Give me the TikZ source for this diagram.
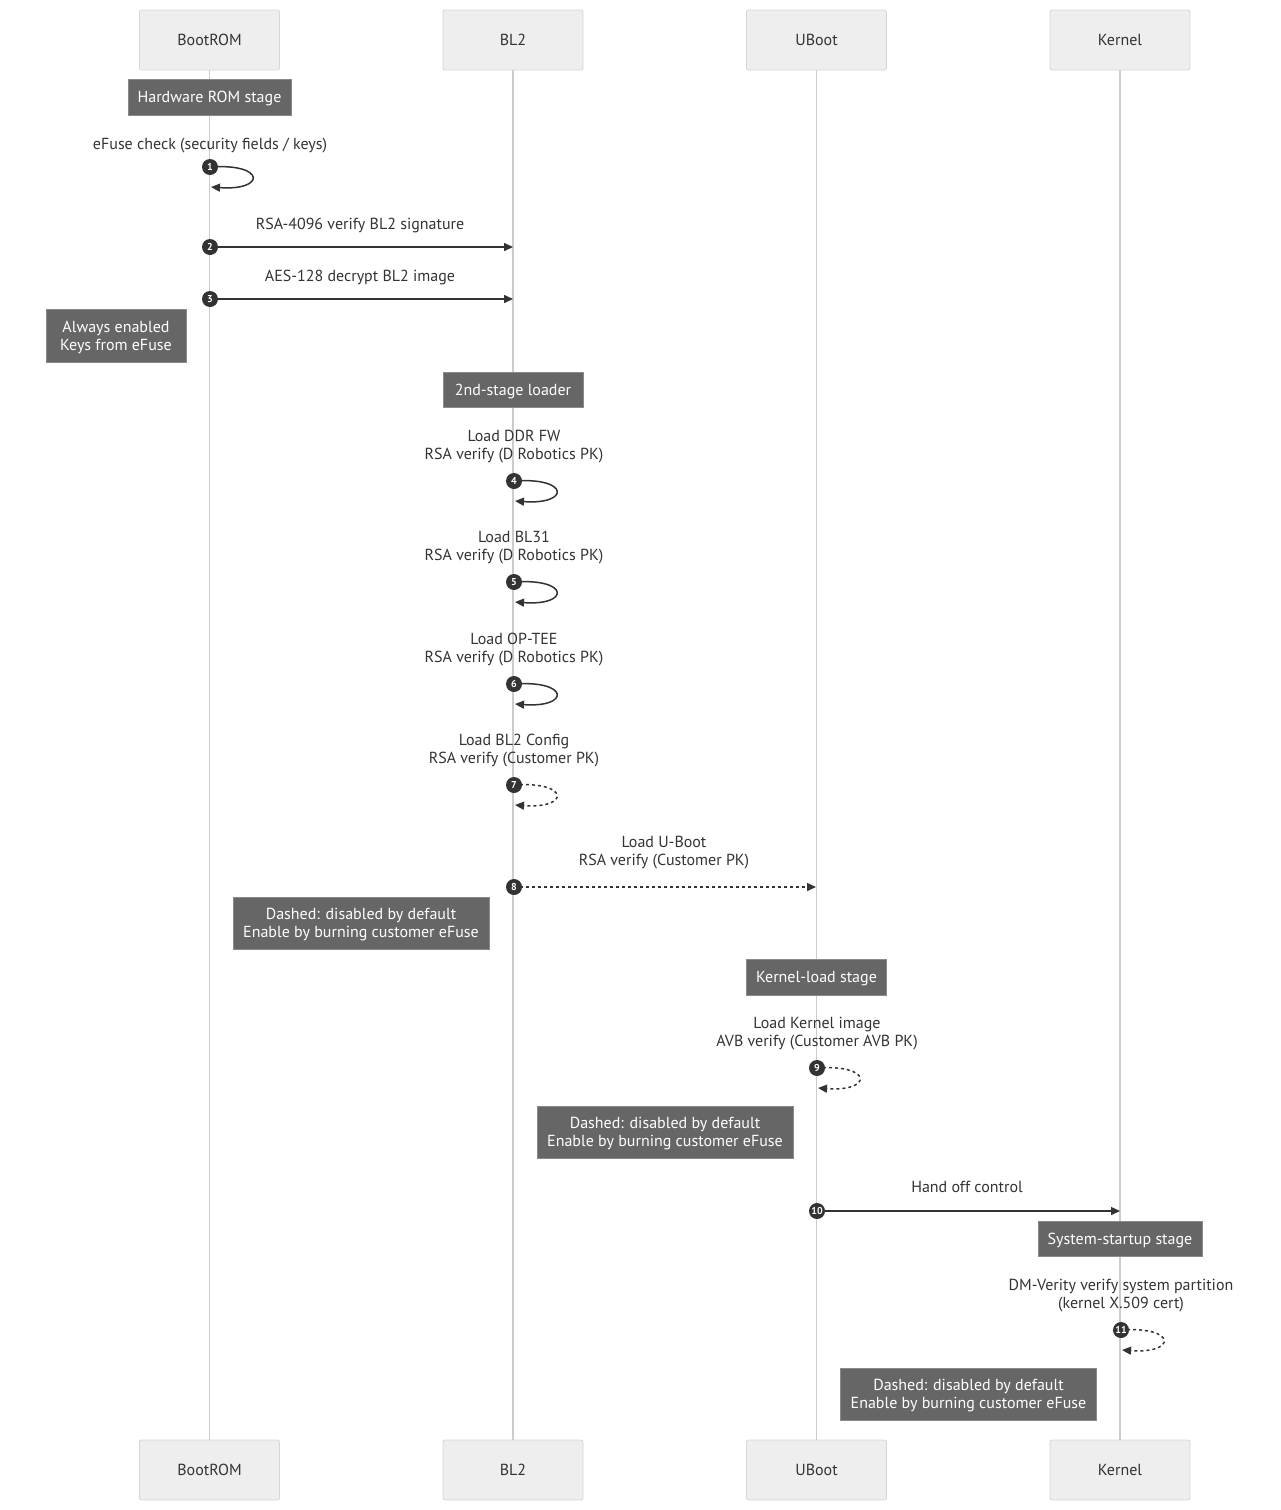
\documentclass[tikz,border=0pt]{standalone}
\usepackage{fontspec}
\setmainfont{PT Sans}
\usetikzlibrary{arrows.meta,calc}
\definecolor{notefill}{HTML}{666666}
\definecolor{noteline}{HTML}{8A8A8A}
\definecolor{actfill}{HTML}{EEEEEE}
\definecolor{actline}{HTML}{D6D6D6}
\definecolor{lifeline}{HTML}{CCCCCC}
\definecolor{ink}{HTML}{333333}
\tikzset{
  actor/.style={draw=actline, fill=actfill, rounded corners=2pt, minimum width=140, minimum height=60, inner sep=0, text=ink, line width=0.8, text depth=1pt},
  note/.style={draw=noteline, fill=notefill, text=white, align=center, inner sep=0, line width=0.8, text depth=0pt},
  msglabel/.style={text=ink, align=center, inner sep=0, text depth=0pt, yshift=-0.5pt},
  msg/.style={draw=ink, line width=1.5, -{Triangle[length=9,width=8]}},
  dmsg/.style={msg, dash pattern=on 3pt off 3pt},
  numc/.style={circle, fill=ink, text=white, inner sep=0, minimum size=16, font=\fontsize{10}{10}\selectfont\bfseries},
  life/.style={draw=lifeline, line width=1.6},
}
\begin{document}
\begin{tikzpicture}[x=1pt,y=-1pt, font=\fontsize{16}{18}\selectfont]
\useasboundingbox (0,0) rectangle (1280,1510);
% actors
\node[actor] (a1) at (209.5,40) {BootROM};
\node[actor] (a2) at (513,40) {BL2};
\node[actor] (a3) at (816.5,40) {UBoot};
\node[actor] (a4) at (1120,40) {Kernel};
\node[actor] (b1) at (209.5,1470) {BootROM};
\node[actor] (b2) at (513,1470) {BL2};
\node[actor] (b3) at (816.5,1470) {UBoot};
\node[actor] (b4) at (1120,1470) {Kernel};
\draw[life] (a1.south) -- (b1.north);
\draw[life] (a2.south) -- (b2.north);
\draw[life] (a3.south) -- (b3.north);
\draw[life] (a4.south) -- (b4.north);

% notes
\node[note, minimum width=163, minimum height=36] (n1) at (209.5,97) {Hardware ROM stage};
\node[note, minimum width=140, minimum height=53] (n2) at (116,335.5) {Always enabled\\Keys from eFuse};
\node[note, minimum width=140, minimum height=35] (n3) at (513,389.5) {2nd-stage loader};
\node[note, minimum width=256, minimum height=52] (n4) at (361,923) {Dashed: disabled by default\\Enable by burning customer eFuse};
\node[note, minimum width=140, minimum height=36] (n5) at (816.5,977) {Kernel-load stage};
\node[note, minimum width=256, minimum height=52] (n6) at (665,1132) {Dashed: disabled by default\\Enable by burning customer eFuse};
\node[note, minimum width=164, minimum height=35] (n7) at (1120,1238.5) {System-startup stage};
\node[note, minimum width=256, minimum height=52] (n8) at (968.5,1394) {Dashed: disabled by default\\Enable by burning customer eFuse};

% labels
\node[msglabel] (l1) at (210,143) {eFuse check (security fields / keys)};
\node[msglabel] (l2) at (360,223) {RSA-4096 verify BL2 signature};
\node[msglabel] (l3) at (360,275) {AES-128 decrypt BL2 image};
\node[msglabel] (l4) at (514,444) {Load DDR FW\\RSA verify (D Robotics PK)};
\node[msglabel] (l5) at (514,545.5) {Load BL31\\RSA verify (D Robotics PK)};
\node[msglabel] (l6) at (514,647) {Load OP-TEE\\RSA verify (D Robotics PK)};
\node[msglabel] (l7) at (514,748.5) {Load BL2 Config\\RSA verify (Customer PK)};
\node[msglabel] (l8) at (664,850) {Load U-Boot\\RSA verify (Customer PK)};
\node[msglabel] (l9) at (817,1031) {Load Kernel image\\AVB verify (Customer AVB PK)};
\node[msglabel] (l10) at (967,1186) {Hand off control};
\node[msglabel] (l11) at (1121,1293) {DM-Verity verify system partition\\(kernel X.509 cert)};

% coordinates
\coordinate (s1) at (210,167);  \coordinate (e1) at (211,187);
\coordinate (s2) at (210,247);  \coordinate (e2) at (513,247);
\coordinate (s3) at (210,299);  \coordinate (e3) at (513,299);
\coordinate (s4) at (514,481);  \coordinate (e4) at (515,501);
\coordinate (s5) at (514,582);  \coordinate (e5) at (515,602);
\coordinate (s6) at (514,684);  \coordinate (e6) at (515,704);
\coordinate (s7) at (514,785);  \coordinate (e7) at (515,805);
\coordinate (s8) at (514,887);  \coordinate (e8) at (816,887);
\coordinate (s9) at (817,1068); \coordinate (e9) at (818,1088);
\coordinate (s10) at (817,1211); \coordinate (e10) at (1120,1211);
\coordinate (s11) at (1121,1330); \coordinate (e11) at (1122,1350);

% messages
\draw[msg] (s1) .. controls ($(s1)+(56,-4)$) and ($(s1)+(56,24)$) .. (e1);
\draw[msg] (s2) -- (e2);
\draw[msg] (s3) -- (e3);
\draw[msg] (s4) .. controls ($(s4)+(56,-4)$) and ($(s4)+(56,24)$) .. (e4);
\draw[msg] (s5) .. controls ($(s5)+(56,-4)$) and ($(s5)+(56,24)$) .. (e5);
\draw[msg] (s6) .. controls ($(s6)+(56,-4)$) and ($(s6)+(56,24)$) .. (e6);
\draw[dmsg] (s7) .. controls ($(s7)+(56,-4)$) and ($(s7)+(56,24)$) .. (e7);
\draw[dmsg] (s8) -- (e8);
\draw[dmsg] (s9) .. controls ($(s9)+(56,-4)$) and ($(s9)+(56,24)$) .. (e9);
\draw[msg] (s10) -- (e10);
\draw[dmsg] (s11) .. controls ($(s11)+(56,-4)$) and ($(s11)+(56,24)$) .. (e11);

% numbers
\node[numc] (c1) at (s1) {1};
\node[numc] (c2) at (s2) {2};
\node[numc] (c3) at (s3) {3};
\node[numc] (c4) at (s4) {4};
\node[numc] (c5) at (s5) {5};
\node[numc] (c6) at (s6) {6};
\node[numc] (c7) at (s7) {7};
\node[numc] (c8) at (s8) {8};
\node[numc] (c9) at (s9) {9};
\node[numc] (c10) at (s10) {10};
\node[numc] (c11) at (s11) {11};
\end{tikzpicture}
\end{document}
